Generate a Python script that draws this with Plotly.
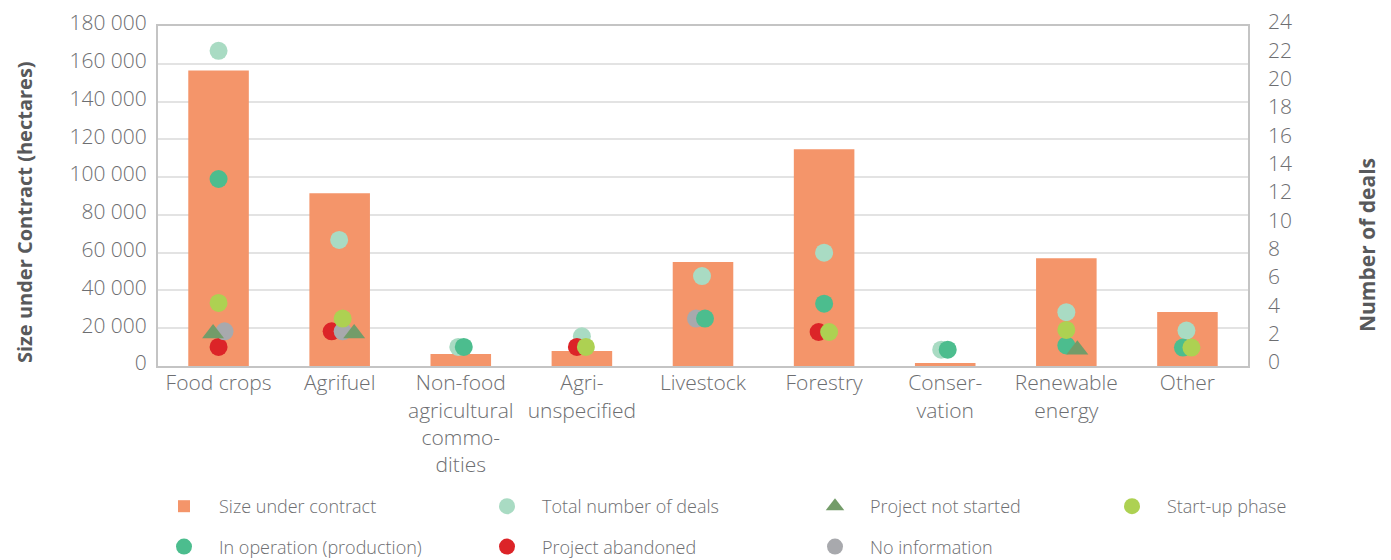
import plotly.graph_objects as go

# ---------------- data ----------------
categories = ["Food crops", "Agrifuel", "Non-food<br>agricultural<br>commo-<br>dities",
              "Agri-<br>unspecified", "Livestock", "Forestry", "Conser-<br>vation",
              "Renewable<br>energy", "Other"]
size_ha = [156500, 91500, 6300, 7900, 55000, 114800, 1600, 57100, 28600]

total_deals = [22.25, 8.9, 1.35, 2.1, 6.35, 8.0, 1.15, 3.8, 2.5]
in_operation = [13.2, None, 1.35, None, 3.35, 4.4, 1.15, 1.45, 1.3]
startup_phase = [4.45, 3.35, None, 1.35, None, 2.4, None, 2.55, 1.3]
not_started = [2.3, 2.3, None, None, None, None, None, 1.15, None]
no_information = [2.45, 2.45, None, None, 3.35, None, None, None, None]
abandoned = [1.35, 2.45, None, 1.35, None, 2.4, None, None, None]

left_tickvals = [0, 20000, 40000, 60000, 80000, 100000, 120000, 140000, 160000, 180000]
left_ticktext = ["0", "20 000", "40 000", "60 000", "80 000", "100 000", "120 000",
                 "140 000", "160 000", "180 000"]
right_tickvals = [0, 2, 4, 6, 8, 10, 12, 14, 16, 18, 20, 22, 24]

# ---------------- layout / style ----------------
# the page body has an 8px margin, so figure pixels = page pixels - 8
W, H = 1383, 552
ML, MR, MT, MB = 150, 143, 18, 194
PLOT_W = W - ML - MR
PLOT_H = H - MT - MB
PX_PER_CAT = PLOT_W / len(categories)

# horizontal nudges of the dots inside each category (pixels), layout only
jitter = {
    "total": [0, -0.5, -2.5, 0, -1, 0, -4, 0, -1],
    "inop": [0, 0, 3, 0, 2, 0, 2.5, 0, -4.5],
    "startup": [0, 3, 0, 4, 0, 5, 0, 0, 4],
    "notstarted": [-5.5, 14.5, 0, 0, 0, 0, 0, 11, 0],
    "noinfo": [6, 3, 0, 0, -7, 0, 0, 0, 0],
    "abandoned": [0, -8, 0, -5, 0, -5.5, 0, 0, 0],
}

C_BAR = "#f4956a"
C_TOTAL = "#a9dbc3"
C_INOP = "#4cbd8e"
C_START = "#add152"
C_NOTST = "#739c69"
C_NOINFO = "#a8a9ad"
C_ABAND = "#dc2428"
TXT = "#6d6e71"
TITLE = "#58595b"
FONT = "Open Sans"

idx = list(range(len(categories)))


def xs(key):
    return [i + jitter[key][i] / PX_PER_CAT for i in idx]


fig = go.Figure()

fig.add_trace(go.Bar(x=idx, y=size_ha, width=0.5, marker=dict(color=C_BAR, line=dict(width=0)),
                     name="Size under contract", legend="legend", legendgroup="g1", legendrank=1))


def dots(key, vals, name, color, legend, rank, symbol="circle", size=18):
    fig.add_trace(go.Scatter(
        x=xs(key), y=vals, yaxis="y2", mode="markers", name=name,
        marker=dict(color=color, size=size, symbol=symbol, line=dict(width=0)),
        legend=legend, legendgroup=key, legendrank=rank))


dots("total", total_deals, "Total number of deals", C_TOTAL, "legend2", 1)
dots("abandoned", abandoned, "Project abandoned", C_ABAND, "legend2", 2)
dots("noinfo", no_information, "No information", C_NOINFO, "legend3", 2)
dots("inop", in_operation, "In operation (production)", C_INOP, "legend", 2)
dots("startup", startup_phase, "Start-up phase", C_START, "legend4", 1)
dots("notstarted", not_started, "Project not started", C_NOTST, "legend3", 1,
     symbol="triangle-up", size=19)


def px_x(p):
    return (p - ML) / PLOT_W


def px_y(p):
    return (H - MB - p) / PLOT_H


leg_common = dict(orientation="v", xanchor="left", yanchor="top", traceorder="grouped",
                  tracegroupgap=14, itemwidth=60, bgcolor="rgba(0,0,0,0)",
                  font=dict(family=FONT, size=18, color=TXT, weight=300))
LEG_TOP = 480
TEXT_OFF = 70

fig.update_layout(
    width=W, height=H,
    margin=dict(l=ML, r=MR, t=MT, b=MB, autoexpand=False),
    paper_bgcolor="white", plot_bgcolor="white",
    font=dict(family=FONT, color=TXT, weight=300),
    showlegend=True,
    legend=dict(x=px_x(211 - TEXT_OFF), y=px_y(LEG_TOP), **leg_common),
    legend2=dict(x=px_x(534 - TEXT_OFF), y=px_y(LEG_TOP), **leg_common),
    legend3=dict(x=px_x(862 - TEXT_OFF), y=px_y(LEG_TOP), **leg_common),
    legend4=dict(x=px_x(1159 - TEXT_OFF), y=px_y(LEG_TOP), **leg_common),
    xaxis=dict(range=[-0.5, len(categories) - 0.5], tickvals=idx, ticktext=categories,
               showgrid=False, zeroline=False, showline=True, mirror=True,
               linecolor="#c4c4c4", linewidth=2, ticks="", automargin=False,
               ticklabelstandoff=-3,
               tickfont=dict(family=FONT, size=21, color=TXT, weight=300)),
    yaxis=dict(range=[0, 180000], tickvals=left_tickvals, ticktext=left_ticktext,
               showgrid=True, gridcolor="#e3e3e3", gridwidth=2, zeroline=False,
               showline=True, mirror=True, linecolor="#c4c4c4", linewidth=2,
               ticks="", ticklabelshift=-3, ticklabelstandoff=5, automargin=False,
               ticklabeloverflow="allow",
               tickfont=dict(family=FONT, size=21, color=TXT, weight=300)),
    yaxis2=dict(range=[0, 24], tickvals=right_tickvals, overlaying="y", side="right",
                showgrid=False, zeroline=False, showline=False, ticks="",
                ticklabelshift=-4, ticklabelstandoff=19, automargin=False,
                ticklabeloverflow="allow",
                tickfont=dict(family=FONT, size=21, color=TXT, weight=300)),
    annotations=[
        dict(text="Size under Contract (hectares)", textangle=-90, xref="paper", yref="paper",
             x=px_x(16), y=px_y(204), showarrow=False, xanchor="center", yanchor="middle",
             font=dict(family=FONT, size=20, color=TITLE, weight="bold")),
        dict(text="Number of deals", textangle=-90, xref="paper", yref="paper",
             x=px_x(1359), y=px_y(237), showarrow=False, xanchor="center", yanchor="middle",
             font=dict(family=FONT, size=21, color=TITLE, weight="bold")),
    ],
)

fig.write_html("out.html")
